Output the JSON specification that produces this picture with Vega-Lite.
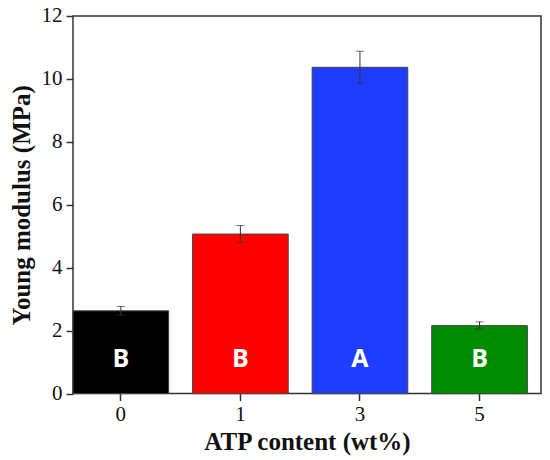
{
  "$schema": "https://vega.github.io/schema/vega-lite/v6.json",
  "description": "Young modulus by ATP content, bar chart with error bars and significance letters.",
  "width": 468,
  "height": 377.6,
  "autosize": {"type": "none"},
  "padding": {"left": 73, "top": 16, "right": 9, "bottom": 66},
  "background": "white",
  "config": {
    "view": {"stroke": "#333", "strokeWidth": 1.5},
    "axis": {"grid": false, "domain": false, "tickColor": "#333", "tickWidth": 1.5}
  },
  "data": {
    "values": [
      {"atp": "0", "modulus": 2.63, "lo": 2.49, "hi": 2.77, "group": "B"},
      {"atp": "1", "modulus": 5.07, "lo": 4.81, "hi": 5.34, "group": "B"},
      {"atp": "3", "modulus": 10.37, "lo": 9.86, "hi": 10.88, "group": "A"},
      {"atp": "5", "modulus": 2.16, "lo": 2.05, "hi": 2.28, "group": "B"}
    ]
  },
  "encoding": {
    "x": {
      "field": "atp",
      "type": "nominal",
      "sort": null,
      "scale": {"paddingInner": 0.2, "paddingOuter": 0.057, "align": 0},
      "axis": {
        "title": "ATP content (wt%)",
        "labelAngle": 0,
        "labelFont": "Liberation Serif",
        "labelFontSize": 21,
        "labelColor": "#111",
        "titleFont": "Liberation Serif",
        "titleFontSize": 25,
        "titleFontWeight": "bold",
        "titleColor": "#111",
        "tickSize": 7,
        "labelPadding": 3,
        "titlePadding": 5
      }
    }
  },
  "layer": [
    {
      "mark": {"type": "bar", "stroke": "#444", "strokeWidth": 1},
      "encoding": {
        "y": {
          "field": "modulus",
          "type": "quantitative",
          "scale": {"domain": [0, 12], "nice": false},
          "axis": {
            "title": "Young modulus (MPa)",
            "values": [0, 2, 4, 6, 8, 10, 12],
            "labelFont": "Liberation Serif",
            "labelFontSize": 21,
            "labelColor": "#111",
            "titleFont": "Liberation Serif",
            "titleFontSize": 25,
            "titleFontWeight": "bold",
            "titleColor": "#111",
            "tickSize": 7,
            "labelPadding": 4,
            "titlePadding": 7
          }
        },
        "color": {
          "field": "atp",
          "type": "nominal",
          "scale": {"domain": ["0", "1", "3", "5"], "range": ["#000000", "#ff0000", "#1f3dff", "#008c00"]},
          "legend": null
        }
      }
    },
    {
      "mark": {"type": "rule", "color": "#333", "strokeWidth": 1},
      "encoding": {
        "y": {"field": "lo", "type": "quantitative"},
        "y2": {"field": "hi"}
      }
    },
    {
      "mark": {"type": "tick", "color": "#333", "size": 8, "thickness": 1},
      "encoding": {"y": {"field": "lo", "type": "quantitative"}}
    },
    {
      "mark": {"type": "tick", "color": "#333", "size": 8, "thickness": 1},
      "encoding": {"y": {"field": "hi", "type": "quantitative"}}
    },
    {
      "mark": {
        "type": "text",
        "color": "white",
        "font": "Open Sans",
        "fontWeight": "bold",
        "fontSize": 25,
        "baseline": "middle"
      },
      "encoding": {
        "y": {"datum": 1.1, "type": "quantitative"},
        "text": {"field": "group"}
      }
    }
  ]
}
